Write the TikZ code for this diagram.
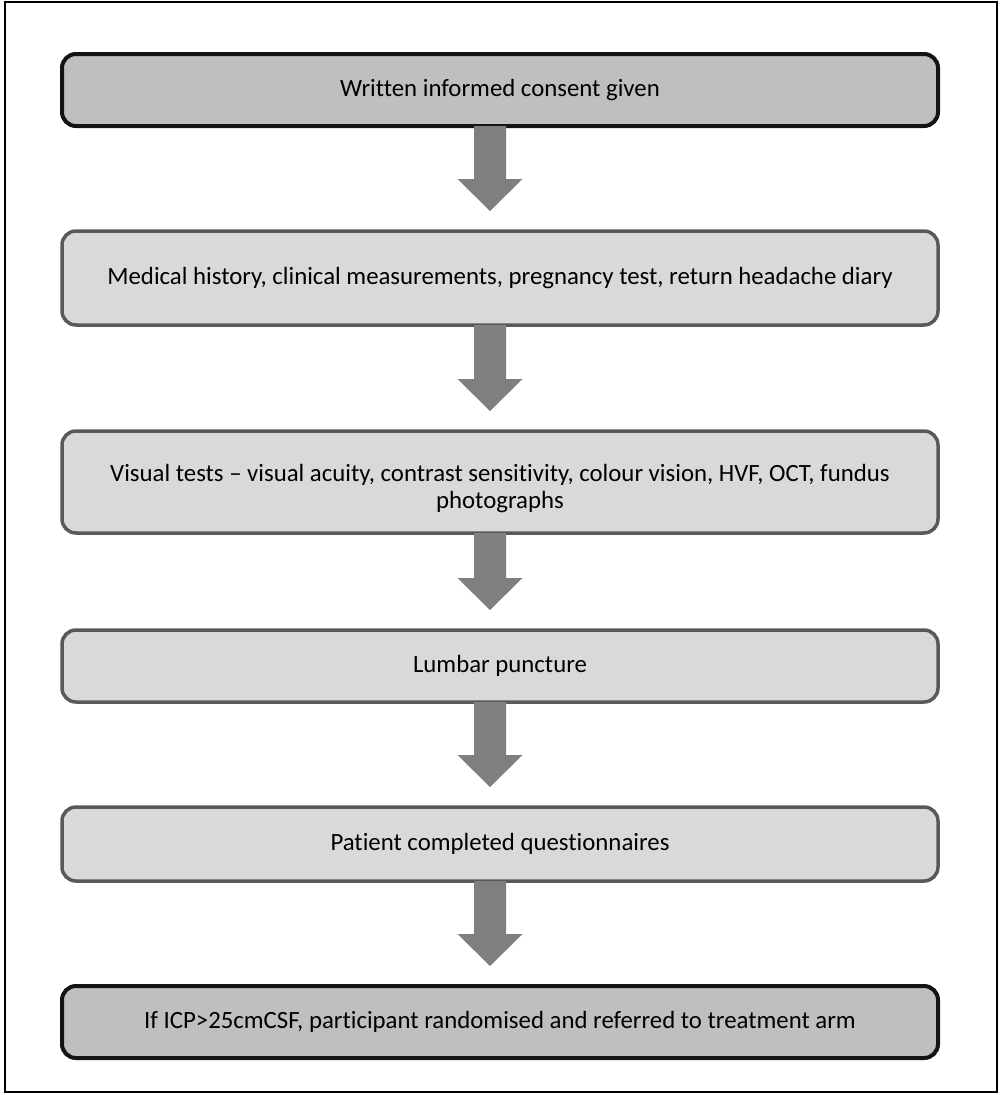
\documentclass[tikz,border=0pt]{standalone}
\usepackage{fontspec}
\setmainfont{Carlito}[Ligatures=NoCommon]
\usetikzlibrary{calc}
\definecolor{darkfill}{HTML}{BFBFBF}
\definecolor{lightfill}{HTML}{D9D9D9}
\definecolor{lightline}{HTML}{595959}
\definecolor{darkline}{HTML}{141414}
\definecolor{arrowgrey}{HTML}{7F7F7F}
\tikzset{
  stepbase/.style={rectangle, rounded corners=14pt, minimum width=876pt, inner sep=0pt, outer sep=0pt,
    align=center, font=\fontsize{24.8}{28}\selectfont, text=black, yshift=0pt},
  darkbox/.style={stepbase, fill=darkfill, draw=darkline, line width=4pt},
  lightbox/.style={stepbase, fill=lightfill, draw=lightline, line width=3.5pt},
  steptext/.style={align=center, font=\fontsize{24.8}{27}\selectfont, text=black, inner sep=0pt},
  blockarrow/.style={fill=arrowgrey, draw=none},
}
\newcommand{\flowarrow}[2]{%
  \fill[blockarrow] ($(#1.south)+(-26,0)$) -- ($(#1.south)+(6,0)$) --
    ($(#2.north)+(6,-52)$) -- ($(#2.north)+(22.5,-52)$) -- ($(#2.north)+(-10,-20)$) --
    ($(#2.north)+(-42.5,-52)$) -- ($(#2.north)+(-26,-52)$) -- cycle;}
\begin{document}
\begin{tikzpicture}[x=1pt,y=-1pt]
\useasboundingbox (0,0) rectangle (1002,1095);
\draw[line width=1.6pt] (5,2) rectangle (997,1092);
\node[darkbox, minimum height=72pt] (b1) at (500,90) {\raisebox{-2pt}{Written informed consent given}};
\node[lightbox, minimum height=94pt] (b2) at (500,278) {\raisebox{-2pt}{Medical history, clinical measurements, pregnancy test, return headache diary}};
\node[lightbox, minimum height=102pt, label={[steptext, yshift=-7pt]center:{Visual tests -- visual acuity, contrast sensitivity, colour vision, HVF, OCT, fundus\\ photographs}}] (b3) at (500,482) {};
\node[lightbox, minimum height=72pt] (b4) at (500,666) {\raisebox{-2pt}{Lumbar puncture}};
\node[lightbox, minimum height=74pt] (b5) at (500,844) {\raisebox{-2pt}{Patient completed questionnaires}};
\node[darkbox, minimum height=72pt] (b6) at (500,1022) {\raisebox{-2pt}{If ICP>25cmCSF, participant randomised and referred to treatment arm}};
\flowarrow{b1}{b2}
\flowarrow{b2}{b3}
\flowarrow{b3}{b4}
\flowarrow{b4}{b5}
\flowarrow{b5}{b6}
\end{tikzpicture}
\end{document}
